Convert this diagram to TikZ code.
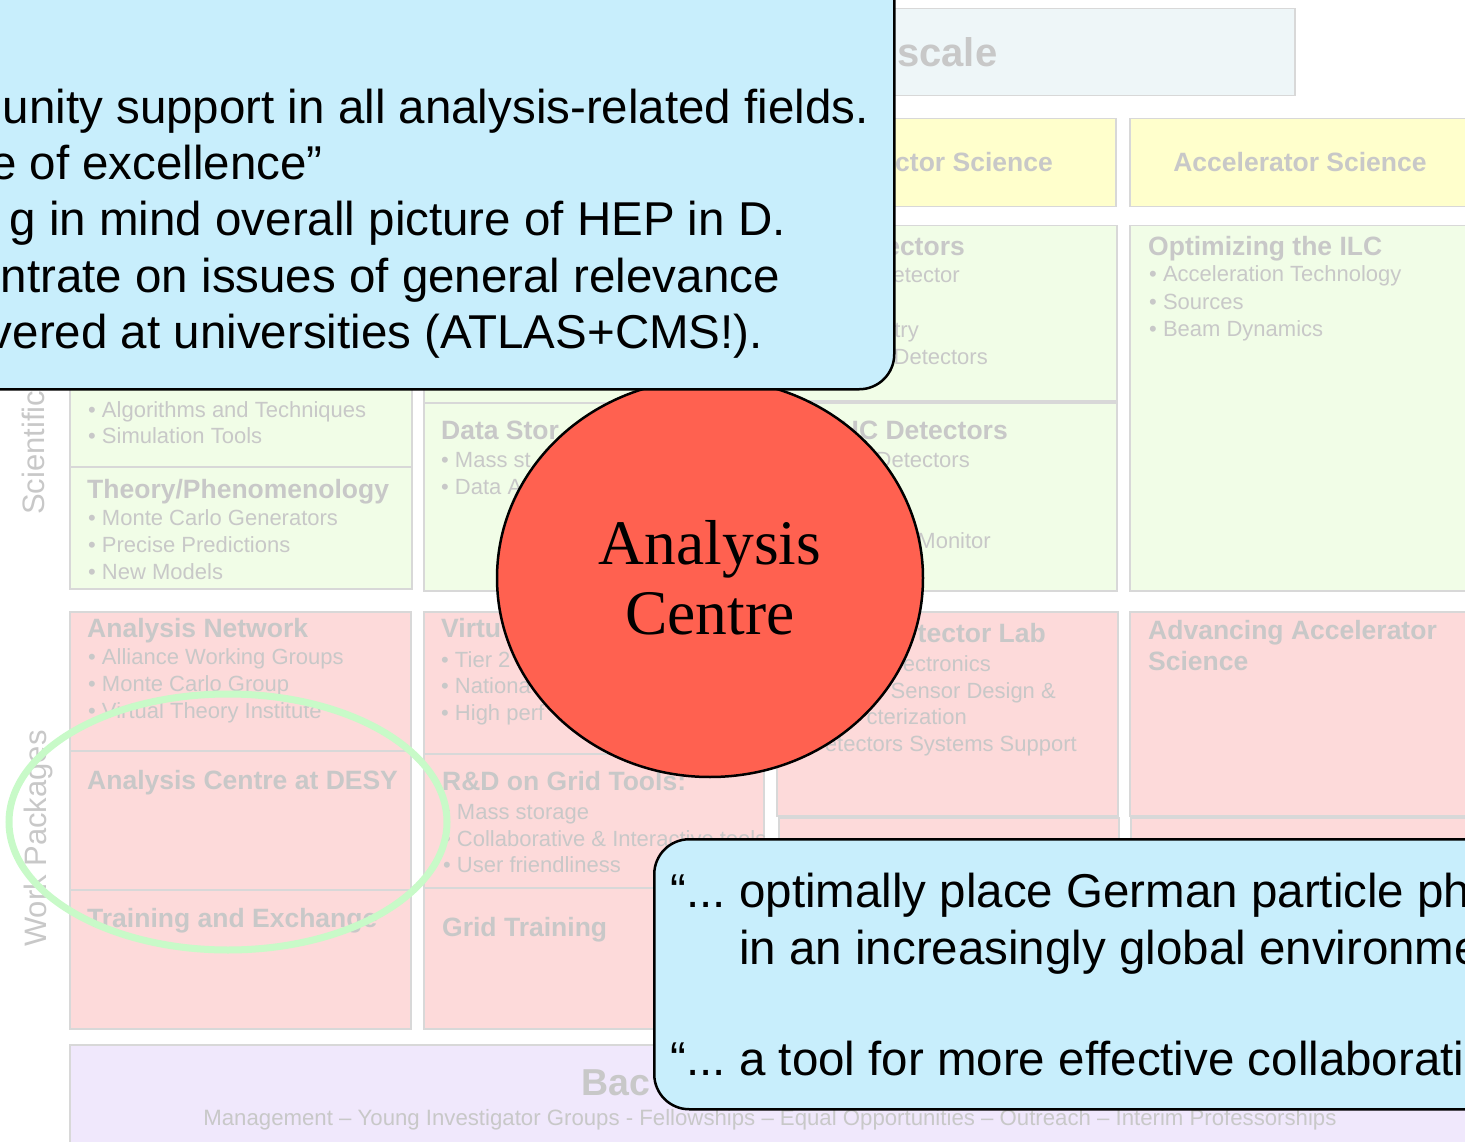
\documentclass[tikz,border=0pt]{standalone}
\usepackage{fontspec}
\setmainfont{Liberation Sans}
\newfontfamily\centrefont{Liberation Serif}
\usetikzlibrary{positioning}
\usetikzlibrary{shapes.geometric}

\definecolor{slidegrey}{RGB}{200,200,200}
\definecolor{boxline}{RGB}{216,216,216}
\definecolor{scifill}{RGB}{241,253,231}
\definecolor{wpfill}{RGB}{253,218,218}
\definecolor{headfill}{RGB}{255,255,204}
\definecolor{terafill}{RGB}{238,246,248}
\definecolor{basefill}{RGB}{240,232,252}
\definecolor{calloutfill}{RGB}{200,238,252}
\definecolor{centrered}{RGB}{255,97,80}
\definecolor{ringgreen}{RGB}{200,250,200}

\begin{document}
\begin{tikzpicture}
    [
        x=1pt, y=-1pt,
        slidebox/.style={draw=boxline, line width=1.5pt, anchor=north west, inner sep=0},
        slideitem/.style={text=slidegrey, font=\fontsize{22}{26}\selectfont, inner sep=0, anchor=base west},
        slideitemr/.style={slideitem, anchor=base east},
        slidehead/.style={slideitem, font=\fontsize{26.5}{30}\selectfont\bfseries},
        slideheadr/.style={slidehead, anchor=base east},
        sidelabel/.style={slideitem, font=\fontsize{31}{34}\selectfont, rotate=90},
        callout/.style={draw=black, line width=2.5pt, fill=calloutfill, rounded corners=35pt, anchor=north west, inner sep=0},
        calltext/.style={font=\fontsize{47.5}{56}\selectfont, inner sep=0},
        centre/.style={ellipse, draw=black, line width=2.5pt, fill=centrered, inner sep=0,
            minimum width=426pt, minimum height=398pt, align=center,
            font=\centrefont\fontsize{63.5}{70}\selectfont},
    ]
    \useasboundingbox (0,0) rectangle (1465,1142);

    % boxes of the programme
    \foreach \n/\x/\y/\w/\h/\f in {
        tera/69/8/1225/87/terafill, hdDet/776/118/339/88/headfill, hdAcc/1129/118/360/88/headfill,
        algo/69/225/342/241/scifill, theo/69/466/342/122/scifill,
        comp/423/225/340/177/scifill, stor/423/402/340/188/scifill,
        detA/776/225/340/175/scifill, detB/776/402/340/188/scifill, ilc/1129/225/360/365/scifill,
        anet/69/611/341/139/wpfill, adesy/69/750/341/139/wpfill, train/69/889/341/139/wpfill,
        virt/423/611/340/142/wpfill, grid/423/753/340/134/wpfill, gtrain/423/887/340/141/wpfill,
        dlab/776/611/341/204/wpfill, dlow/778/817/340/211/wpfill,
        aas/1129/611/360/204/wpfill, alow/1130/817/360/211/wpfill,
        base/69/1044/1420/120/basefill}
        \node[slidebox, fill=\f, minimum width=\w, minimum height=\h] (\n) at (\x,\y) {};

    % headers
    \node[slidehead, font=\fontsize{40}{44}\selectfont\bfseries] (tera-t) at (897,67) {scale};
    \node[slideheadr] (hdDet-t) at (1053,172) {ctor Science};
    \node[slidehead, anchor=base] (hdAcc-t) at (1300,172) {Accelerator Science};
    \node[sidelabel] (sci-l) at (44,515) {Scientific};
    \node[sidelabel] (wp-l) at (46,947) {Work Packages};

    % scientific topics
    \node[slideitem] (algo-1) at (88,417) {• Algorithms and Techniques};
    \node[slideitem] (algo-2) at (88,443) {• Simulation Tools};
    \node[slidehead] (theo-h) at (87,498) {Theory/Phenomenology};
    \foreach \t [count=\i] in {Monte Carlo Generators, Precise Predictions, New Models}
        \node[slideitem] (theo-\i) at (88,498+27*\i) {• \t};
    \node[slidehead] (stor-h) at (441,439) {Data Stor};
    \node[slideitem] (stor-1) at (441,467) {• Mass st};
    \node[slideitem] (stor-2) at (441,494) {• Data A};
    \node[slideheadr] (detA-h) at (965,256) {ectors};
    \node[slideitemr] (detA-1) at (960,283) {etector};
    \node[slideitemr] (detA-2) at (919,337) {try};
    \node[slideitemr] (detA-3) at (988,364) {Detectors};
    \node[slideheadr] (detB-h) at (1008,439) {LHC Detectors};
    \node[slideitemr] (detB-1) at (970,467) {Detectors};
    \node[slideitemr] (detB-2) at (991,548) {Monitor};
    \node[slidehead] (ilc-h) at (1148,255) {Optimizing the ILC};
    \foreach \t [count=\i] in {Acceleration Technology, Sources, Beam Dynamics}
        \node[slideitem] (ilc-\i) at (1149,255+27*\i) {• \t};

    % work packages
    \node[slidehead] (anet-h) at (87,637) {Analysis Network};
    \foreach \t [count=\i] in {Alliance Working Groups, Monte Carlo Group, Virtual Theory Institute}
        \node[slideitem] (anet-\i) at (88,637+27*\i) {• \t};
    \node[slidehead] (adesy-h) at (87,789) {Analysis Centre at DESY};
    \node[slidehead] (train-h) at (87,927) {Training and Exchange};
    \node[slidehead] (virt-h) at (441,637) {Virtu};
    \node[slideitem] (virt-1) at (441,667) {• Tier 2};
    \node[slideitem] (virt-2) at (441,693) {• Nationa};
    \node[slideitem] (virt-3) at (441,720) {• High perf};
    \node[slidehead] (grid-h) at (442,790) {R\&D on Grid Tools:};
    \node[slideitem] (grid-1) at (443,819) {• Mass storage};
    \node[slideitem] (grid-2) at (443,846) {• Collaborative \& Interactive tools};
    \node[slideitem] (grid-3) at (443,872) {• User friendliness};
    \node[slidehead] (gtrain-h) at (442,936) {Grid Training};
    \node[slideheadr] (dlab-h) at (1046,642) {tector Lab};
    \node[slideitemr] (dlab-1) at (991,671) {ectronics};
    \node[slideitemr] (dlab-2) at (1056,698) {Sensor Design \&};
    \node[slideitemr] (dlab-3) at (967,724) {cterization};
    \node[slideitemr] (dlab-4) at (1077,751) {etectors Systems Support};
    \node[slidehead] (aas-h) at (1148,639) {Advancing Accelerator};
    \node[slidehead] (aas-h2) at (1148,670) {Science};
    \node[slidehead, font=\fontsize{37.5}{40}\selectfont\bfseries] (base-h) at (581,1095) {Bac};
    \node[slideitem, anchor=base, font=\fontsize{22.2}{26}\selectfont] (base-t) at (770,1125)
        {Management – Young Investigator Groups - Fellowships – Equal Opportunities – Outreach – Interim Professorships};

    % the ring and the centre
    \draw[ringgreen, line width=7pt] (228,822) ellipse [x radius=219pt, y radius=128pt];
    \node[centre] (ac) at (710,578) {Analysis\\Centre};

    % callouts
    \node[callout, minimum width=933, minimum height=428] (aims) at (-40,-40) {};
    \node[calltext, anchor=base east] (aims-1) at (869,124) {unity support in all analysis-related fields.};
    \node[calltext, anchor=base east] (aims-2) at (323,180) {e of excellence”};
    \node[calltext, anchor=base east] (aims-3) at (786,236) {g in mind overall picture of HEP in D.};
    \node[calltext, anchor=base east] (aims-4) at (780,292) {ntrate on issues of general relevance};
    \node[calltext, anchor=base east] (aims-5) at (763,348) {vered at universities (ATLAS+CMS!).};

    \node[callout, minimum width=900, minimum height=270] (quotes) at (653,838) {};
    \node[calltext, anchor=base west] (quotes-1) at (670,907) {“...\hspace{-4pt} optimally place German particle physics};
    \node[calltext, anchor=base west] (quotes-2) at (739,964) {in an increasingly global environment};
    \node[calltext, anchor=base west] (quotes-3) at (670,1075) {“...\hspace{-4pt} a tool for more effective collaboration};
\end{tikzpicture}
\end{document}
